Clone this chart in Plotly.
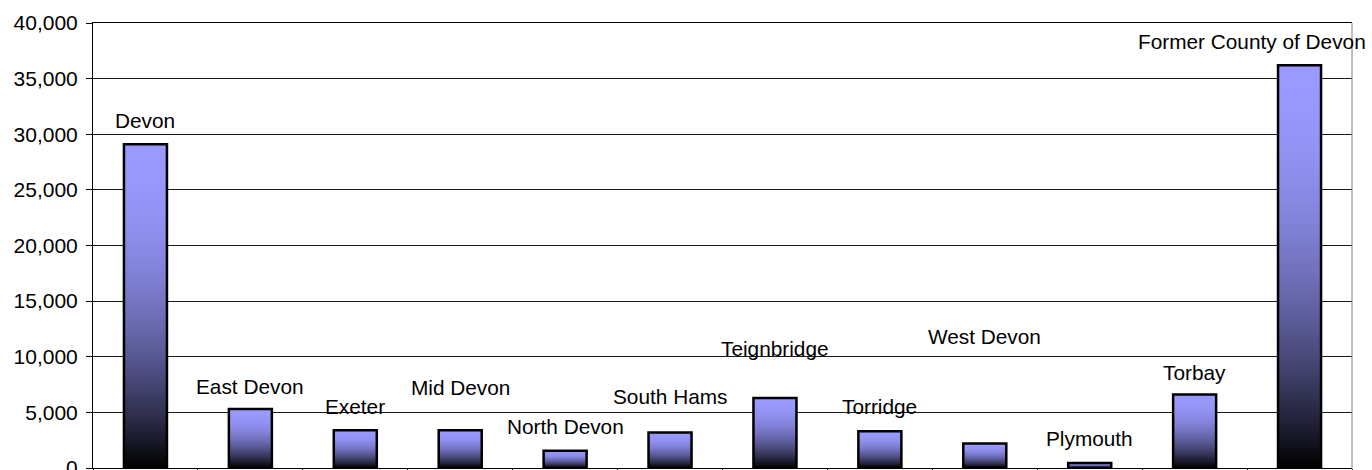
import plotly.graph_objects as go

categories = ["Devon", "East Devon", "Exeter", "Mid Devon", "North Devon", "South Hams",
              "Teignbridge", "Torridge", "West Devon", "Plymouth", "Torbay",
              "Former County of Devon"]
values = [29100, 5300, 3400, 3400, 1550, 3200, 6300, 3300, 2200, 450, 6600, 36200]
# vertical centre of each data label, in data units (as placed in the original)
label_y = [31200, 7370, 5570, 7250, 3710, 6410, 10760, 5510, 11800, 2670, 8570, 38300]
y_ticks = [0, 5000, 10000, 15000, 20000, 25000, 30000, 35000, 40000]

FONT = "Liberation Sans, Arial, sans-serif"
TOP = (153, 153, 255)
N = 120
BAR_W = 0.41

fig = go.Figure()

# gradient: successively shorter bars drawn on top of each other,
# lavender at the top of each bar fading to black at its base
for j in range(N):
    frac = (N - j) / N             # height fraction of this layer
    t = (j + 0.5) / N              # position from the top of the bar
    f = 1 - t * t
    col = "rgb(%d,%d,%d)" % tuple(round(c * f) for c in TOP)
    fig.add_trace(go.Bar(
        x=categories,
        y=[v * frac for v in values],
        width=BAR_W,
        marker=dict(color=col, line=dict(width=0)),
        hoverinfo="skip",
        showlegend=False,
    ))

# outline
fig.add_trace(go.Bar(
    x=categories, y=values, width=BAR_W,
    marker=dict(color="rgba(0,0,0,0)", line=dict(color="black", width=2.5)),
    showlegend=False,
))

for i, (c, ly) in enumerate(zip(categories, label_y)):
    fig.add_annotation(
        x=c, y=ly, text=c, showarrow=False, yanchor="middle", xanchor="center",
        xshift=-48 if i == len(categories) - 1 else 0,
        font=dict(family=FONT, size=20.8, color="black"),
    )

fig.add_shape(type="line", xref="paper", yref="paper", x0=1, x1=1, y0=0, y1=1,
              line=dict(color="#808080", width=1))

fig.update_layout(
    width=1372, height=470,
    margin=dict(l=93, r=20, t=23, b=2),
    barmode="overlay",
    plot_bgcolor="white", paper_bgcolor="white",
    font=dict(family=FONT, size=20.5, color="black"),
    xaxis=dict(
        type="category", range=[-0.5, len(categories) - 0.5],
        showticklabels=False, showgrid=False, automargin=False,
        showline=True, linecolor="black", linewidth=1, mirror=True,
        ticks="outside", tickson="boundaries", ticklen=6, tickcolor="black",
    ),
    yaxis=dict(
        range=[0, 40000], tickvals=y_ticks, automargin=False,
        tickformat=",d", ticklabeloverflow="allow",
        showgrid=True, gridcolor="#1a1a1a", gridwidth=1,
        showline=True, linecolor="black", linewidth=1,
        ticks="outside", ticklen=6, tickcolor="black", ticklabelstandoff=4,
        zeroline=False,
        tickfont=dict(family=FONT, size=21, color="black"),
    ),
)

fig.write_html("out.html", config={"displayModeBar": False},
               post_script="document.body.style.margin='0';")
